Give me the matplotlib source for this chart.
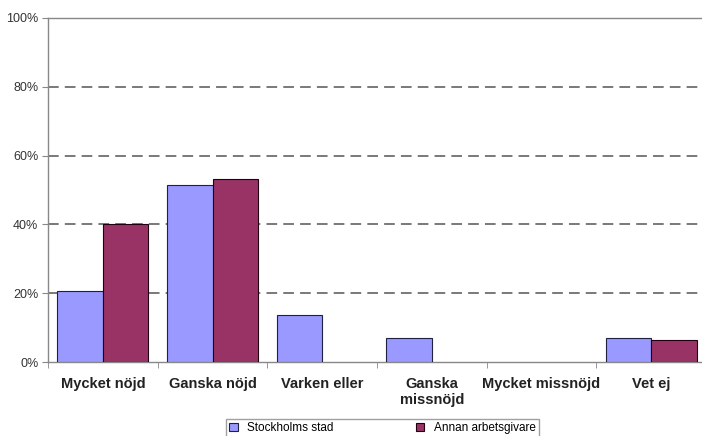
import numpy as np
import matplotlib.pyplot as plt

plt.rcParams['font.family'] = ['Liberation Sans', 'DejaVu Sans']

categories = ["Mycket nöjd", "Ganska nöjd", "Varken eller", "Ganska\nmissnöjd", "Mycket missnöjd", "Vet ej"]
stockholm = [20.6, 51.5, 13.7, 7.0, 0.0, 7.0]
annan = [40.0, 53.2, 0.0, 0.0, 0.0, 6.4]
series_names = ["Stockholms stad", "Annan arbetsgivare"]

fig = plt.figure(figsize=(7.02, 4.36), dpi=100)
ax = fig.add_axes([48 / 702, 74 / 436, 658 / 702, 344 / 436])

x = np.arange(len(categories))
w = 0.415
b1 = ax.bar(x - w / 2, stockholm, w, color="#9999FF", edgecolor="#202040", linewidth=0.8,
            label=series_names[0], zorder=3)
b2 = ax.bar(x + w / 2, annan, w, color="#993366", edgecolor="#200010", linewidth=0.8,
            label=series_names[1], zorder=3)
# Excel draws nothing for zero values
for bars in (b1, b2):
    for p in bars.patches:
        if p.get_height() == 0:
            p.set_visible(False)

ax.set_xlim(-0.5, len(categories) - 0.5)
ax.set_ylim(0, 100)
ax.set_yticks([0, 20, 40, 60, 80, 100])
ax.set_yticklabels([f"{v}%" for v in [0, 20, 40, 60, 80, 100]], fontsize=9, color="#333333")
for v in [20, 40, 60, 80]:
    ax.axhline(v, color="#555555", linestyle=(0, (7, 4)), linewidth=1.1, zorder=1)

ax.set_xticks(x)
ax.set_xticklabels(categories, fontsize=10.5, fontweight="bold", color="#222222")
ax.tick_params(axis="x", length=0, pad=11)
ax.set_xticks(np.arange(len(categories) + 1) - 0.5, minor=True)
ax.tick_params(axis="x", which="minor", length=4, color="#888888", direction="out")
ax.tick_params(axis="y", length=4, color="#888888", pad=3)

for side in ["left", "bottom", "top"]:
    ax.spines[side].set_color("#888888")
    ax.spines[side].set_linewidth(1.0)
ax.spines["right"].set_visible(False)

fig.legend(loc="upper center", bbox_to_anchor=(0.545, 0.038), ncol=2, fontsize=8.5,
           frameon=True, fancybox=False, edgecolor="#888888", handlelength=0.7,
           handleheight=0.7, columnspacing=7, borderpad=0.25, borderaxespad=0)

fig.savefig("out.png", dpi=100)
